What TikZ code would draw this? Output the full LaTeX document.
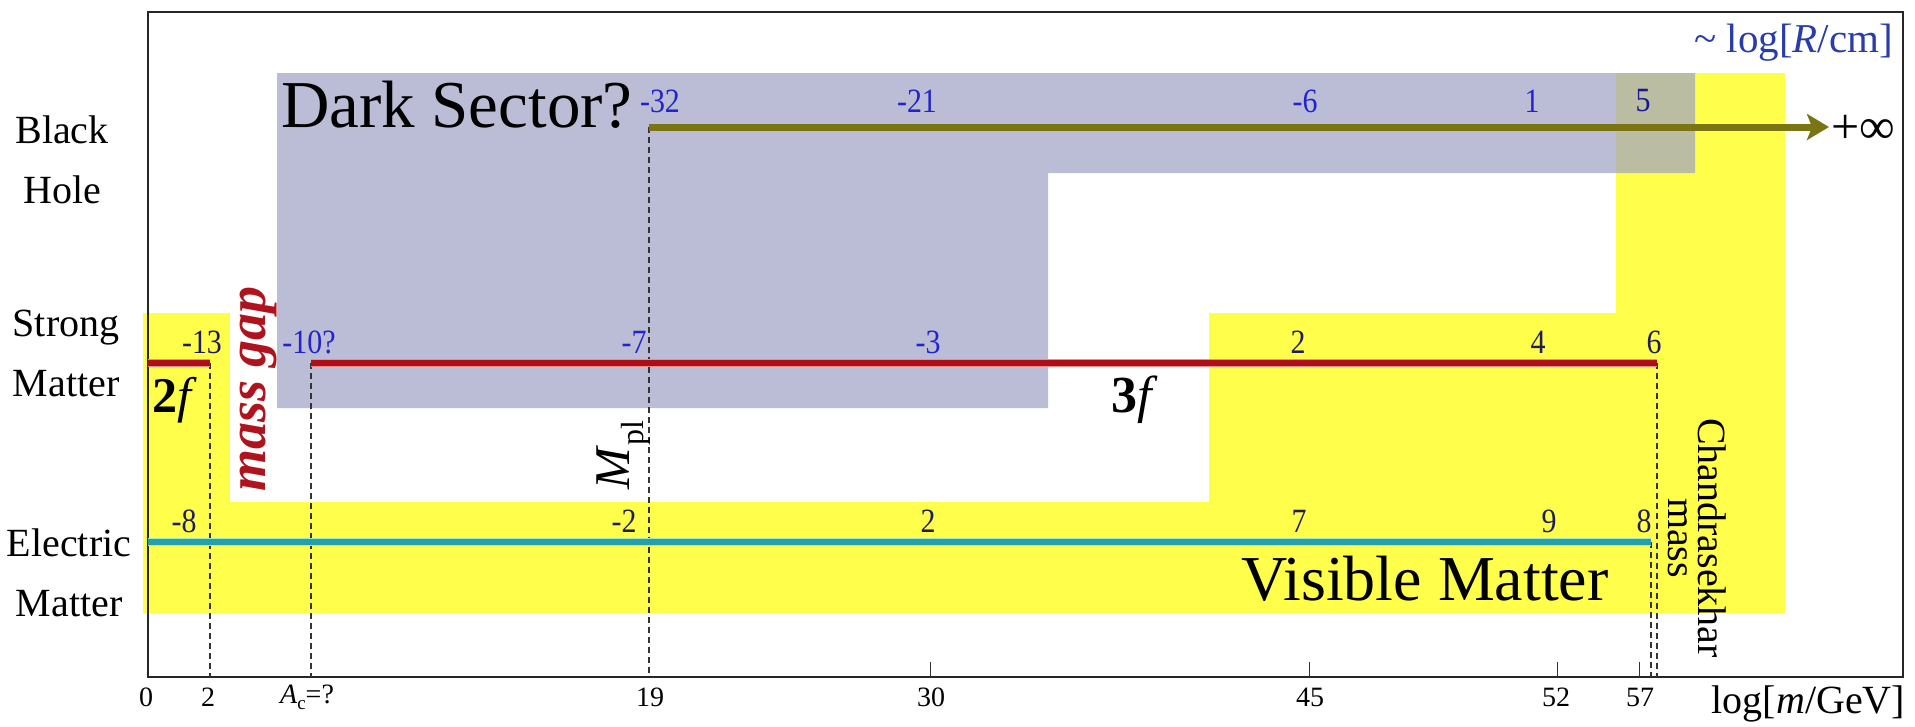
\documentclass[tikz,border=0pt]{standalone}
\usepackage{fontspec}
\setmainfont{Liberation Serif}
\usetikzlibrary{arrows.meta}
\definecolor{ylw}{RGB}{255,255,75}
\definecolor{dsgray}{RGB}{161,164,198}
\definecolor{bholive}{RGB}{122,116,18}
\definecolor{smred}{RGB}{172,16,22}
\definecolor{smpink}{RGB}{236,140,140}
\definecolor{emteal}{RGB}{36,160,172}
\definecolor{emlight}{RGB}{170,232,196}
\definecolor{numblue}{RGB}{35,35,205}
\definecolor{numnavy}{RGB}{30,30,95}
\definecolor{axblue}{RGB}{40,60,170}
\definecolor{gapred}{RGB}{175,20,30}
\newcommand{\fsz}[1]{\fontsize{#1}{#1}\selectfont}
\tikzset{
  rowlab/.style={align=center, font=\fontsize{40}{60}\selectfont},
  numb/.style={font=\fsz{34}, text=numblue, xscale=0.88},
  numn/.style={font=\fsz{34}, text=numnavy, xscale=0.88},
  axlab/.style={font=\fsz{28}},
  dashln/.style={draw=black!80, line width=1.3pt, dash pattern=on 6pt off 4pt},
  tickln/.style={draw=black!80, line width=1pt},
  redln/.style={line width=6pt, draw=smred},
  redglow/.style={line width=8.5pt, draw=smpink},
  cyanln/.style={line width=6pt, draw=emteal},
  cyanglow/.style={line width=8.5pt, draw=emlight},
}
\begin{document}
\begin{tikzpicture}[x=1pt, y=-1pt, every node/.style={inner sep=0pt, outer sep=0pt}]
\useasboundingbox (0,0) rectangle (1915,726);
% yellow regions
\fill[ylw] (143,313) rectangle (230,613);
\fill[ylw] (143,502) rectangle (1785,613);
\fill[ylw] (1209,313) rectangle (1785,613);
\fill[ylw] (1616,73) rectangle (1785,613);
% dark sector region
\fill[dsgray, opacity=0.72] (277,73) -- (1695,73) -- (1695,173) -- (1048,173) -- (1048,408) -- (277,408) -- cycle;
% frame
\draw[line width=2pt, black!85] (148,12) rectangle (1903,677);

% coordinates
\coordinate (bhS) at (649,127);
\coordinate (bhE) at (1829,127);
\coordinate (smA) at (148,363);
\coordinate (smB) at (210,363);
\coordinate (smC) at (311,363);
\coordinate (smD) at (1657,363);
\coordinate (emA) at (148,542);
\coordinate (emB) at (1651,542);
\coordinate (x2) at (210,677);
\coordinate (xAc) at (311,677);
\coordinate (x19) at (649,677);
\coordinate (x57a) at (1657,677);
\coordinate (x57b) at (1651,677);
\coordinate (t30) at (930,677);
\coordinate (t30u) at (930,662);
\coordinate (t45) at (1309,677);
\coordinate (t45u) at (1309,662);
\coordinate (t52) at (1557,677);
\coordinate (t52u) at (1557,662);
\coordinate (t57) at (1639,677);
\coordinate (t57u) at (1639,662);

% dashed lines
\draw[dashln] (bhS) -- (x19);
\draw[dashln] (smB) -- (x2);
\draw[dashln] (smC) -- (xAc);
\draw[dashln] (smD) -- (x57a);
\draw[dashln] (emB) -- (x57b);
% ticks
\draw[tickln] (t30) -- (t30u);
\draw[tickln] (t45) -- (t45u);
\draw[tickln] (t52) -- (t52u);
\draw[tickln] (t57) -- (t57u);

% lines
\draw[line width=7pt, bholive, -{Stealth[length=22pt, width=26pt, inset=5pt]}] (bhS) -- (bhE);
\draw[redglow] (smA) -- (smB);
\draw[redln] (smA) -- (smB);
\draw[redglow] (smC) -- (smD);
\draw[redln] (smC) -- (smD);
\draw[cyanglow] (emA) -- (emB);
\draw[cyanln] (emA) -- (emB);

% row labels
\node[rowlab] (lbh) at (62,160) {Black\\Hole};
\node[rowlab] (lsm) at (66,353) {Strong\\Matter};
\node[rowlab] (lem) at (69,573) {Electric\\Matter};

% big labels
\node[anchor=base west, font=\fsz{67}] (dark) at (281,127) {Dark Sector?};
\node[anchor=base west, font=\fsz{64}] (vis) at (1241,600) {Visible Matter};
\node[anchor=base east, font=\fsz{41}, text=axblue] (rlab) at (1893,52) {\textasciitilde\ log[\textit{R}/cm]};
\node[anchor=base east, font=\fsz{40}] (mlab) at (1905,713) {log[\textit{m}/GeV]};
\node[anchor=west, font=\fsz{50}] (inf) at (1831,129) {+∞};
\node[anchor=base west, font=\fsz{50}] (twof) at (152,412) {\textbf{2}\textit{f}};
\node[anchor=base west, font=\fsz{52}] (threef) at (1111,412) {\textbf{3}\textit{f}};
\node[rotate=90, anchor=base, font=\fsz{54}\bfseries\itshape, text=gapred] (gap) at (265,389) {mass gap};
\node[rotate=90, anchor=base, font=\fsz{50}] (mpl) at (629,455) {\textit{M}\raisebox{-0.28em}{\fsz{32}pl}};
\node[rotate=-90, align=center, font=\fontsize{40}{30}\selectfont] (chan) at (1697,538) {Chandrasekhar\\mass};

% top row numbers
\node[numb] (r1) at (660,101) {-32};
\node[numb] (r2) at (917,101) {-21};
\node[numb] (r3) at (1305,101) {-6};
\node[numb] (r4) at (1532,101) {1};
\node[numb, text=numblue!70!black] (r5) at (1643,101) {5};
% strong row numbers
\node[numn] (s1) at (202,342) {-13};
\node[numb] (s2) at (309,342) {-10?};
\node[numb] (s3) at (634,342) {-7};
\node[numb] (s4) at (928,342) {-3};
\node[numn] (s5) at (1298,342) {2};
\node[numn] (s6) at (1538,342) {4};
\node[numn] (s7) at (1654,342) {6};
% electric row numbers
\node[numn] (e1) at (184,521) {-8};
\node[numn] (e2) at (624,521) {-2};
\node[numn] (e3) at (928,521) {2};
\node[numn] (e4) at (1299,521) {7};
\node[numn] (e5) at (1549,521) {9};
\node[numn] (e6) at (1644,521) {8};

% axis labels
\node[axlab] (a0) at (146,697) {0};
\node[axlab] (a2) at (208,697) {2};
\node[axlab] (aAc) at (307,697) {\textit{A}\raisebox{-0.22em}{\fsz{19}c}=?};
\node[axlab] (a19) at (650,697) {19};
\node[axlab] (a30) at (931,697) {30};
\node[axlab] (a45) at (1310,697) {45};
\node[axlab] (a52) at (1556,697) {52};
\node[axlab] (a57) at (1640,697) {57};
\end{tikzpicture}
\end{document}
